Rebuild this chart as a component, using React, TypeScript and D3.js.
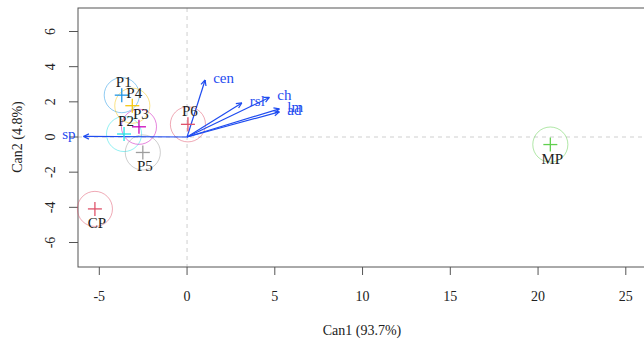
import { useEffect, useRef } from "react";
import * as d3 from "d3";

// group centroids on the canonical axes
const groups = ["CP", "MP", "P1", "P2", "P3", "P4", "P5", "P6"];
const can1 = [-5.25, 20.7, -3.72, -3.59, -2.74, -3.12, -2.52, 0.05];
const can2 = [-4.09, -0.43, 2.38, 0.17, 0.58, 1.78, -0.88, 0.72];
// R pos code for the group label: 1 = below, 3 = above
const labelSide = [1, 1, 3, 3, 3, 3, 1, 3];

// structure vectors
const vars = ["sp", "cen", "rsl", "ch", "lm", "ad"];
const vec1 = [-5.9, 1.03, 3.12, 4.69, 5.26, 5.26];
const vec2 = [0.03, 3.24, 1.94, 2.25, 1.6, 1.43];

const xTicks = [-5, 0, 5, 10, 15, 20, 25];
const yTicks = [-6, -4, -2, 0, 2, 4, 6];

const COLORS = ["#DF536B", "#61D04F", "#2297E6", "#28E2E5", "#CD0BBC", "#F5C710", "#9E9E9E", "#DF536B"];
const VEC_COLOR = "#1F4CF0";
const FONT = "'Liberation Serif', 'DejaVu Serif', serif";

export default function App() {
  const svgRef = useRef<SVGSVGElement>(null);

  useEffect(() => {
    if (!svgRef.current) return;
    const svg = d3.select(svgRef.current);
    svg.selectAll("*").remove();

    const left = 78;
    const top = 8;
    const bottom = 267;
    const right = 660;

    const x = d3.scaleLinear().domain([-5, 25]).range([99.3, 625.8]);
    const y = d3.scaleLinear().domain([-6, 6]).range([242.5, 31.5]);
    const r = x(1) - x(0);

    // reference lines at 0
    svg.append("line")
      .attr("x1", x(0)).attr("x2", x(0))
      .attr("y1", top).attr("y2", bottom)
      .attr("stroke", "#cfcfcf").attr("stroke-dasharray", "4,4");
    svg.append("line")
      .attr("x1", left).attr("x2", right)
      .attr("y1", y(0)).attr("y2", y(0))
      .attr("stroke", "#cfcfcf").attr("stroke-dasharray", "4,4");

    // box
    svg.append("rect")
      .attr("x", left).attr("y", top)
      .attr("width", right - left).attr("height", bottom - top)
      .attr("fill", "none").attr("stroke", "#555");

    // axes
    xTicks.forEach((t) => {
      svg.append("line")
        .attr("x1", x(t)).attr("x2", x(t))
        .attr("y1", bottom).attr("y2", bottom + 8)
        .attr("stroke", "#555");
      svg.append("text")
        .attr("x", x(t)).attr("y", 301)
        .attr("text-anchor", "middle")
        .attr("font-family", FONT).attr("font-size", 14).attr("fill", "#222")
        .text(t);
    });
    yTicks.forEach((t) => {
      svg.append("line")
        .attr("x1", left - 9).attr("x2", left)
        .attr("y1", y(t)).attr("y2", y(t))
        .attr("stroke", "#555");
      svg.append("text")
        .attr("transform", `translate(55,${y(t)}) rotate(-90)`)
        .attr("text-anchor", "middle")
        .attr("font-family", FONT).attr("font-size", 14).attr("fill", "#222")
        .text(t);
    });

    svg.append("text")
      .attr("x", 362).attr("y", 335)
      .attr("text-anchor", "middle")
      .attr("font-family", FONT).attr("font-size", 14).attr("fill", "#222")
      .text("Can1 (93.7%)");
    svg.append("text")
      .attr("transform", `translate(22,137) rotate(-90)`)
      .attr("text-anchor", "middle")
      .attr("font-family", FONT).attr("font-size", 14).attr("fill", "#222")
      .text("Can2 (4.8%)");

    // group circles
    groups.forEach((_, i) => {
      svg.append("circle")
        .attr("cx", x(can1[i])).attr("cy", y(can2[i])).attr("r", r)
        .attr("fill", "none")
        .attr("stroke", COLORS[i]).attr("stroke-opacity", 0.5);
    });

    // structure vectors
    const head = 6;
    vars.forEach((v, i) => {
      const x0 = x(0), y0 = y(0);
      const x1 = x(vec1[i]), y1 = y(vec2[i]);
      const ang = Math.atan2(y1 - y0, x1 - x0);
      const g = svg.append("g").attr("stroke", VEC_COLOR).attr("stroke-width", 1.2);
      g.append("line").attr("x1", x0).attr("y1", y0).attr("x2", x1).attr("y2", y1);
      [-0.45, 0.45].forEach((a) => {
        g.append("line")
          .attr("x1", x1).attr("y1", y1)
          .attr("x2", x1 - head * Math.cos(ang + a))
          .attr("y2", y1 - head * Math.sin(ang + a));
      });
      const pos = vec1[i] > 0;
      svg.append("text")
        .attr("x", pos ? x1 + 8 : x1 - 8)
        .attr("y", y1 + 3)
        .attr("text-anchor", pos ? "start" : "end")
        .attr("font-family", FONT).attr("font-size", 15).attr("fill", VEC_COLOR)
        .text(v);
    });

    // centroid crosses and labels
    groups.forEach((gname, i) => {
      const cx = x(can1[i]), cy = y(can2[i]);
      const g = svg.append("g").attr("stroke", COLORS[i]).attr("stroke-width", 1.3);
      g.append("line").attr("x1", cx - 7).attr("x2", cx + 7).attr("y1", cy).attr("y2", cy);
      g.append("line").attr("x1", cx).attr("x2", cx).attr("y1", cy - 7).attr("y2", cy + 7);
      svg.append("text")
        .attr("x", cx + 2)
        .attr("y", labelSide[i] === 3 ? cy - 8 : cy + 19)
        .attr("text-anchor", "middle")
        .attr("font-family", FONT).attr("font-size", 15).attr("fill", "#222")
        .text(gname);
    });
  }, []);

  return (
    <svg
      ref={svgRef}
      width={644}
      height={344}
      style={{ position: "absolute", left: 0, top: 0, background: "#fff" }}
    />
  );
}
